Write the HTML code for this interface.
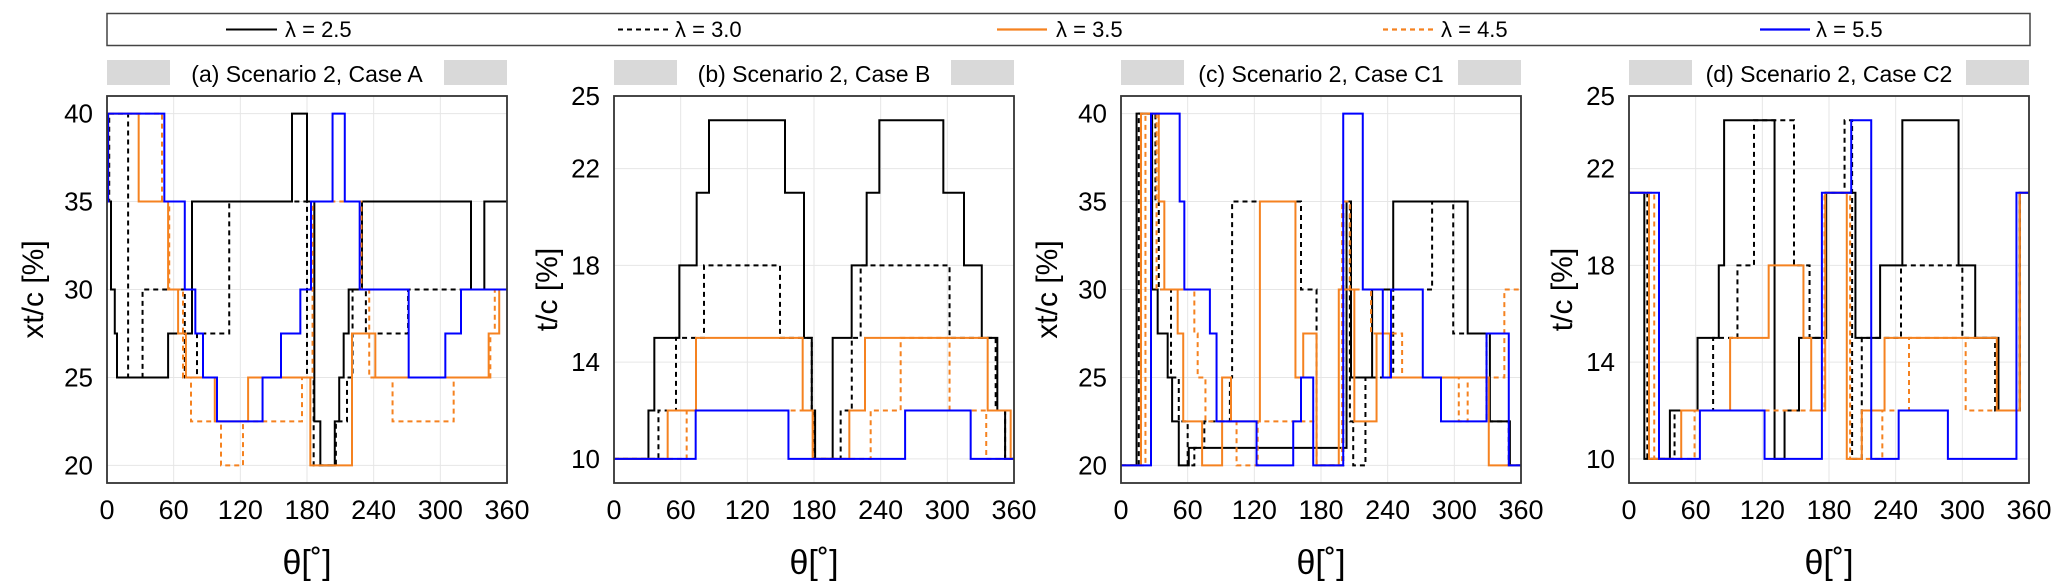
<!DOCTYPE html>
<html><head><meta charset="utf-8"><style>
html,body{margin:0;padding:0;background:#fff;}
svg{display:block;font-family:"Liberation Sans",sans-serif;}
</style></head><body>
<svg id="chart" width="2067" height="588" viewBox="0 0 2067 588" xmlns="http://www.w3.org/2000/svg">
<g>
<rect x="107" y="13.5" width="1923" height="32" fill="#fff" stroke="#444" stroke-width="1.5"/>
<g><line x1="226" y1="29.5" x2="277" y2="29.5" stroke="#000" stroke-width="2"/><text x="285" y="37" font-size="22">λ = 2.5</text></g>
<g><line x1="618" y1="29.5" x2="668" y2="29.5" stroke="#000" stroke-width="2" stroke-dasharray="5,4"/><text x="675" y="37" font-size="22">λ = 3.0</text></g>
<g><line x1="997" y1="29.5" x2="1047" y2="29.5" stroke="#f58220" stroke-width="2.2"/><text x="1056" y="37" font-size="22">λ = 3.5</text></g>
<g><line x1="1383" y1="29.5" x2="1433" y2="29.5" stroke="#f58220" stroke-width="2.2" stroke-dasharray="5,4"/><text x="1441" y="37" font-size="22">λ = 4.5</text></g>
<g><line x1="1760" y1="29.5" x2="1810" y2="29.5" stroke="#0000ff" stroke-width="2.2"/><text x="1816" y="37" font-size="22">λ = 5.5</text></g>
</g>
</svg>
<script>
// Panel (a) data
const thA1=[0,3.6,7,9,55,76.5,166.5,180,186.6,192,205,209,213,217.5,229.5,327.6,339.6];
const vA1=[35,30,27.5,25,27.5,35,40,35,22.5,20,22.5,25,27.5,30,35,30,35];
const thA2=[0,2,19,32,70,81,110,180,186,206,216,221,233,271];
const vA2=[35,40,25,30,25,27.5,35,25,20,22.5,25,30,27.5,30];
const thA3=[0,1,28.5,55,64,71,97,127,183,220.5,241.5,343.5,353];
const vA3=[35,40,35,30,27.5,25,22.5,25,20,27.5,25,27.5,30];
const thA4=[0,1,49.5,56,68.4,75.6,102.6,122.4,175.5,185,229,236,257,312,345,349];
const vA4=[35,40,35,30,25,22.5,20,22.5,25,35,30,25,22.5,25,27.5,30];
const thA5=[0,1,51.6,70,79.5,86.4,99,140,156.6,174,183.6,203,214,227.4,271.5,304.5,318.6];
const vA5=[35,40,35,30,27.5,25,22.5,25,27.5,30,35,40,35,30,25,27.5,30];
// Panel (b) data
const thB1=[0,31,36.3,58.8,74.4,85.5,153.9,171,178,181,196.8,213.9,227.4,238.8,296.4,315,331,345,352];
const vB1=[10,12,15,18,21,24,21,15,12,10,15,18,21,24,21,18,15,12,10];
const thB2=[0,40,55.8,81,149.4,178,180,204,214,222,302,343.5,352];
const vB2=[10,12,15,18,15,12,10,12,15,18,15,12,10];
const thB3=[0,48.3,73.8,169.8,178.8,211.8,225.9,336.3,357];
const vB3=[10,12,15,12,10,12,15,12,10];
const thB4=[0,65.4,179,231,258,302,335];
const vB4=[10,12,10,12,15,12,10];
const thB5=[0,73.5,157,262,321];
const vB5=[10,12,10,12,10];
// Panel (c) data
const thC1=[0,14,28,33,42,46,52,61,203,207,226,245,312,332,350];
const vC1=[20,40,30,27.5,25,22.5,20,21,35,25,30,35,27.5,22.5,20];
const thC2=[0,16,31,34,45,52,60,66,75,98,100,162,176,200,206,209,220,245,280,299,329,349];
const vC2=[20,40,35,30,25,22.5,20,21,22.5,25,35,30,20,35,22.5,20,25,30,35,27.5,22.5,20];
const thC3=[0,18,34,39,51,56,73,91,99,125,157,164,176,196,210,230,242,331,349];
const vC3=[20,40,35,30,27.5,22.5,20,25,22.5,35,25,27.5,20,30,22.5,27.5,25,20,20];
const thC4=[0,22,32,66,69,76,104,123,176,199,206,225,253,304,312,345,352];
const vC4=[20,40,30,27.5,25,22.5,20,22.5,20,35,30,27.5,25,22.5,25,30,30];
const thC5=[0,27,52.8,57,80,86,122,155,162,173,200,217.6,235.6,243,271.6,288,329,349];
const vC5=[20,40,35,30,27.5,22.5,20,22.5,25,20,40,30,25,30,25,22.5,27.5,20];
// Panel (d) data
const thD1=[0,13.8,36.8,61.7,80.8,85.6,131,140,153,177.5,203.8,226,246,296.6,311.6,332.5,351.7];
const vD1=[21,10,12,15,18,24,10,12,15,21,15,18,24,18,15,12,21];
const thD2=[0,16.5,41,75.7,97.6,112.5,148.5,162.5,177,194,200.8,209.5,244.8,300,329.5,351.7];
const vD2=[21,10,12,15,18,24,18,15,21,24,10,15,18,15,12,21];
const thD3=[0,18,47,91,125.7,157,164,176.6,196,209.5,230,331,351.7];
const vD3=[21,10,12,15,18,15,12,21,10,12,15,12,21];
const thD4=[0,22.7,59,176,199,228,252,303,351.7];
const vD4=[21,10,12,21,10,12,15,12,21];
const thD5=[0,27,63.8,122,173.6,200,218,242.7,287,348.7];
const vD5=[21,10,12,10,21,24,10,12,10,21];

const xTicks=[0,60,120,180,240,300,360];
const yTicksA=[20,25,30,35,40];
const yTicksB=[10,14,18,22,25];
const titles=["(a) Scenario 2, Case  A","(b) Scenario 2, Case B","(c) Scenario 2, Case C1","(d) Scenario 2, Case C2"];
const yLabels=["xt/c [%]","t/c [%]","xt/c [%]","t/c [%]"];

const NS="http://www.w3.org/2000/svg";
const svg=document.getElementById('chart');
function mk(tag,attrs,parent){const e=document.createElementNS(NS,tag);for(const k in attrs)e.setAttribute(k,attrs[k]);parent.appendChild(e);return e;}
const ORANGE="#f58220";
const styles=[{c:"#000",d:null},{c:"#000",d:"5,4"},{c:ORANGE,d:null},{c:ORANGE,d:"5,4"},{c:"#0000ff",d:null}];
const panels=[
 {x0:107,ymin:19,ymax:41,ticks:yTicksA,series:[[thA1,vA1],[thA2,vA2],[thA3,vA3],[thA4,vA4],[thA5,vA5]],labOff:74,key:"a"},
 {x0:614,ymin:9,ymax:25,ticks:yTicksB,series:[[thB1,vB1],[thB2,vB2],[thB3,vB3],[thB4,vB4],[thB5,vB5]],labOff:67,key:"b"},
 {x0:1121,ymin:19,ymax:41,ticks:yTicksA,series:[[thC1,vC1],[thC2,vC2],[thC3,vC3],[thC4,vC4],[thC5,vC5]],labOff:74,key:"c"},
 {x0:1629,ymin:9,ymax:25,ticks:yTicksB,series:[[thD1,vD1],[thD2,vD2],[thD3,vD3],[thD4,vD4],[thD5,vD5]],labOff:67,key:"d"}
];
const W=400,Y0=96,Y1=483;
const lamNames=["2-5","3-0","3-5","4-5","5-5"];
panels.forEach((p,pi)=>{
 const g=mk('g',{},svg);
 
 
 const xs=t=>p.x0+t/360*W;
 const ys=v=>Y1-(v-p.ymin)/(p.ymax-p.ymin)*(Y1-Y0);
 const tb=mk('g',{},g);
 
 
 mk('rect',{x:p.x0,y:60,width:63,height:25,fill:"#d9d9d9"},tb);
 mk('rect',{x:p.x0+W-63,y:60,width:63,height:25,fill:"#d9d9d9"},tb);
 const tt=mk('text',{x:p.x0+W/2,y:82,'font-size':23,'text-anchor':'middle'},tb);tt.textContent=titles[pi];
 xTicks.forEach(t=>{mk('line',{x1:xs(t),x2:xs(t),y1:Y0,y2:Y1,stroke:"#e6e6e6","stroke-width":1},g);
  const lb=mk('text',{x:xs(t),y:519,'font-size':27,'text-anchor':'middle'},g);lb.textContent=t;
  
  });
 p.ticks.forEach(v=>{mk('line',{x1:p.x0,x2:p.x0+W,y1:ys(v),y2:ys(v),stroke:"#e6e6e6","stroke-width":1},g);
  const lb=mk('text',{x:p.x0-14,y:ys(v)+9,'font-size':26,'text-anchor':'end'},g);lb.textContent=v;
  
  });
 p.series.forEach((s,si)=>{
  const th=s[0],v=s[1];let d="M"+xs(th[0])+","+ys(v[0]);
  for(let i=0;i<th.length;i++){const xe=xs(i+1<th.length?th[i+1]:360);d+=" H"+xe;if(i+1<th.length)d+=" V"+ys(v[i+1]);}
  const path=mk('path',{d:d,fill:"none",stroke:styles[si].c,"stroke-width":2},g);
  if(styles[si].d)path.setAttribute('stroke-dasharray',styles[si].d);
  
  
 });
 mk('rect',{x:p.x0,y:Y0,width:W,height:Y1-Y0,fill:"none",stroke:"#333","stroke-width":1.8},g);
 const xl=mk('text',{x:p.x0+W/2,y:574,'font-size':34,'text-anchor':'middle'},g);xl.textContent="θ[˚]";
 
 
 const cy=(Y0+Y1)/2,cx=p.x0-p.labOff+10;
 const yl=mk('text',{x:cx,y:cy,'font-size':30,'text-anchor':'middle',transform:`rotate(-90 ${cx} ${cy})`},g);yl.textContent=yLabels[pi];
 
 
});
</script>
</body></html>
